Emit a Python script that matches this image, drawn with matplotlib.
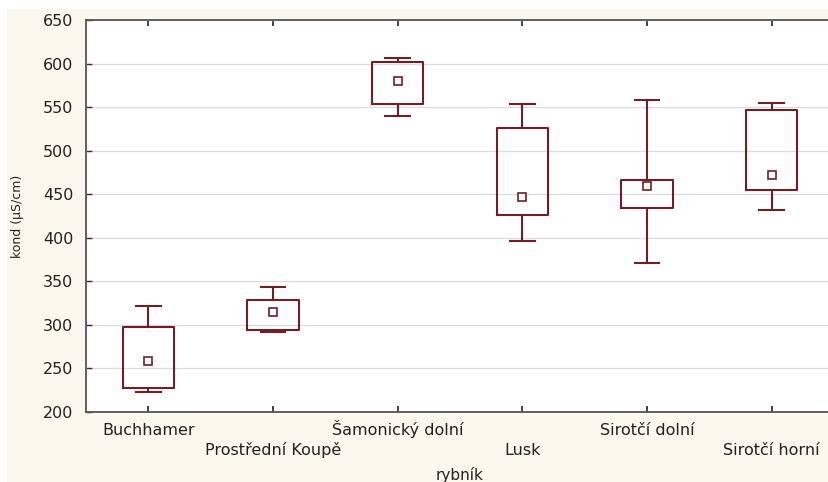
import matplotlib
matplotlib.use("Agg")
import matplotlib.pyplot as plt
from matplotlib.patches import Rectangle

plt.rcParams['font.family'] = ['DejaVu Sans']

# values
ponds = ['Buchhamer', 'Prostřední Koupě', 'Šamonický dolní', 'Lusk', 'Sirotčí dolní', 'Sirotčí horní']
means = [258, 315, 580, 447, 459, 472]
box_low = [227, 294, 554, 426, 434, 455]
box_high = [298, 328, 602, 526, 466, 547]
whisk_low = [223, 292, 540, 396, 371, 432]
whisk_high = [322, 343, 606, 554, 558, 555]

dark = '#6e1f27'

fig = plt.figure(figsize=(8.29, 4.82), dpi=100)
fig.patch.set_facecolor('white')
# cream panel behind the plot
fig.patches.append(Rectangle((7 / 829, 0), 1, 1 - 9 / 482, transform=fig.transFigure,
                             facecolor='#fbf8ee', edgecolor='none', zorder=-10))

ax = fig.add_axes([86 / 829, 1 - 412 / 482, 748 / 829, 392 / 482])
ax.set_facecolor('white')

stats = []
for name, m, q1, q3, lo, hi in zip(ponds, means, box_low, box_high, whisk_low, whisk_high):
    stats.append({'label': name, 'mean': m, 'med': m, 'q1': q1, 'q3': q3,
                  'whislo': lo, 'whishi': hi, 'fliers': []})

ax.bxp(stats, positions=range(len(ponds)), widths=0.41, showmeans=True, showfliers=False,
       boxprops=dict(color=dark, linewidth=1.5),
       whiskerprops=dict(color=dark, linewidth=1.5),
       capprops=dict(color=dark, linewidth=1.5),
       capwidths=0.2,
       medianprops=dict(linewidth=0),
       meanprops=dict(marker='s', markersize=6, markerfacecolor='white',
                      markeredgecolor=dark, markeredgewidth=1.2),
       zorder=3)

ax.set_xlim(-0.5, 5.5)
ax.set_ylim(200, 650)
ax.set_yticks(range(200, 651, 50))
ax.grid(axis='y', color='#dcdcdc', linewidth=0.9, zorder=0)
ax.set_axisbelow(True)

# alternating label rows: major ticks on first row, minor ticks on second
ax.set_xticks([0, 2, 4])
ax.set_xticklabels([ponds[0], ponds[2], ponds[4]], va='baseline')
ax.set_xticks([1, 3, 5], minor=True)
ax.set_xticklabels([ponds[1], ponds[3], ponds[5]], minor=True, va='baseline')
ax.tick_params(axis='x', which='both', direction='in', top=True, length=4, width=1.3,
               color='#333333', labelsize=11.5, labelcolor='#222222')
ax.tick_params(axis='x', which='major', pad=16.5)
ax.tick_params(axis='x', which='minor', pad=31)
ax.tick_params(axis='y', direction='in', length=4, width=1.0, color='#333333',
               labelsize=11.5, labelcolor='#222222', pad=9)

for side in ['left', 'bottom', 'top']:
    ax.spines[side].set_color('#555555')
    ax.spines[side].set_linewidth(1.3)
ax.spines['right'].set_visible(False)

ax.set_xlabel('rybník', fontsize=11, color='#222222')
ax.xaxis.set_label_coords(0.5, -(475 - 412) / 392, transform=ax.transAxes)
ax.xaxis.label.set_va('center')
ax.set_ylabel('kond (µS/cm)', fontsize=9, color='#222222', labelpad=14)

fig.savefig('out.png', dpi=100, facecolor=fig.get_facecolor())
